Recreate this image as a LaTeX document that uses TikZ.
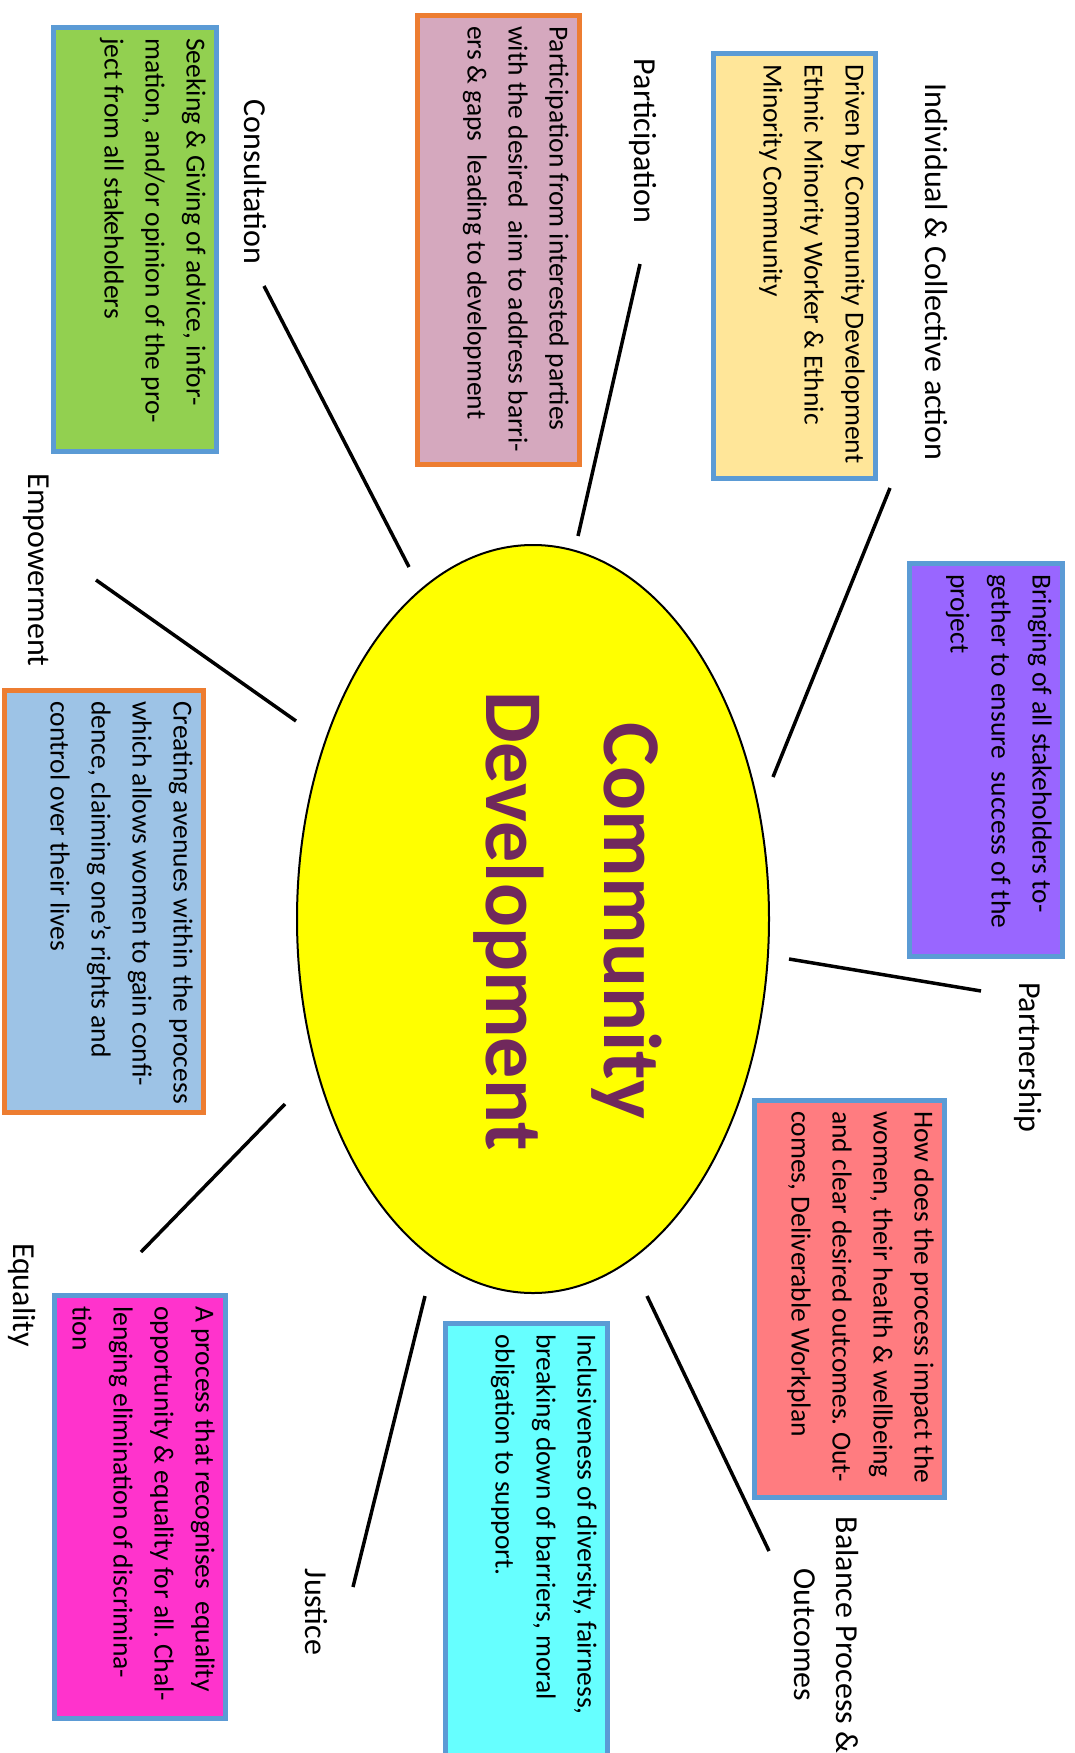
\documentclass[tikz,border=0pt]{standalone}
\usepackage{fontspec}
\setmainfont{Carlito}
\usetikzlibrary{shapes.geometric}
\frenchspacing

\definecolor{boxblue}{RGB}{91,155,213}
\definecolor{boxorange}{RGB}{237,125,49}
\definecolor{titlepurple}{RGB}{112,40,92}
\definecolor{fillsand}{RGB}{255,230,153}
\definecolor{fillmauve}{RGB}{213,168,190}
\definecolor{fillgreen}{RGB}{146,208,80}
\definecolor{fillviolet}{RGB}{153,102,255}
\definecolor{fillsalmon}{RGB}{255,124,128}
\definecolor{fillcyan}{RGB}{102,255,255}
\definecolor{fillmagenta}{RGB}{255,51,204}
\definecolor{fillsky}{RGB}{157,195,230}
\definecolor{centreyellow}{RGB}{255,255,0}

\tikzset{
  descbox/.style  = {draw=boxblue, line width=5pt, rotate=-90, inner sep=0pt},
  desctext/.style = {rotate=-90, anchor=north west, align=left, inner sep=13pt,
                     font=\fontsize{27.5}{41}\selectfont},
  term/.style     = {rotate=-90, align=center, inner sep=0pt,
                     font=\fontsize{32}{42}\selectfont},
  spoke/.style    = {line width=3.5pt},
}

\begin{document}
\begin{tikzpicture}[x=1pt, y=-1pt]
  \clip (0,0) rectangle (1075,1753);
  \fill[white] (0,0) rectangle (1075,1753);

  % centre
  \node[ellipse, draw, line width=2pt, fill=centreyellow, minimum width=472, minimum height=748] (cd) at (533,919) {};
  \node[rotate=-90, align=center, text=titlepurple, font=\fontsize{82}{118}\selectfont\bfseries] (cdtitle) at (568,921) {Community\\Development};

  % boxes
  \node[descbox, fill=fillsand, minimum width=425, minimum height=162] (bIndiv) at (794.5,266) {};
  \node[desctext] at (bIndiv.north west) {Driven by Community Development\\Ethnic Minority Worker \& Ethnic\\Minority Community};

  \node[descbox, draw=boxorange, fill=fillmauve, minimum width=449, minimum height=162] (bPartic) at (498.5,240) {};
  \node[desctext] at (bPartic.north west) {Participation from interested parties\\with the desired\ \ aim to address barri-\\ers \& gaps\ \ leading to development};

  \node[descbox, fill=fillgreen, minimum width=424, minimum height=163] (bConsult) at (135,239.5) {};
  \node[desctext] at (bConsult.north west) {Seeking \& Giving of advice, infor-\\mation, and/or opinion of the pro-\\ject from all stakeholders};

  \node[descbox, fill=fillviolet, minimum width=393, minimum height=153] (bPartner) at (986,760) {};
  \node[desctext] at (bPartner.north west) {Bringing of all stakeholders to-\\gether to ensure\ \ success of the\\project};

  \node[descbox, fill=fillsalmon, minimum width=397, minimum height=190] (bBalance) at (849.5,1299) {};
  \node[desctext] at (bBalance.north west) {How does the process impact the\\women, their health \& wellbeing\\and clear desired outcomes. Out-\\comes, Deliverable Workplan};

  \node[descbox, fill=fillcyan, minimum width=443, minimum height=162] (bJustice) at (526.5,1545) {};
  \node[desctext] at (bJustice.north west) {Inclusiveness of diversity, fairness,\\breaking down of barriers, moral\\obligation to support.};

  \node[descbox, fill=fillmagenta, minimum width=423, minimum height=171] (bEqual) at (140,1507) {};
  \node[desctext] at (bEqual.north west) {A process that recognises\ \ equality\\opportunity \& equality for all. Chal-\\lenging elimination of discrimina-\\tion};

  \node[descbox, draw=boxorange, fill=fillsky, minimum width=422, minimum height=199] (bEmpower) at (104,901.5) {};
  \node[desctext] at (bEmpower.north west) {Creating avenues within the process\\which allows women to gain confi-\\dence, claiming one’s rights and\\control over their lives};

  % terms
  \node[term] (tIndiv)   at (936,272)  {Individual \& Collective action};
  \node[term] (tPartic)  at (643,141)  {Participation};
  \node[term] (tConsult) at (255,182)  {Consultation};
  \node[term] (tEmpower) at (36,570)   {Empowerment};
  \node[term] (tEqual)   at (22,1295)  {Equality};
  \node[term] (tJustice) at (316,1612) {Justice};
  \node[term] (tBalance) at (826,1635) {Balance Process \&\\Outcomes};
  \node[term] (tPartner) at (1028,1057) {Partnership};

  % spokes
  \coordinate (sIndiv1)   at (890,488);  \coordinate (sIndiv2)   at (773,777);
  \coordinate (sPartic1)  at (640,264);  \coordinate (sPartic2)  at (578,536);
  \coordinate (sConsult1) at (264,286);  \coordinate (sConsult2) at (409,567);
  \coordinate (sEmpower1) at (96,580);   \coordinate (sEmpower2) at (296,721);
  \coordinate (sEqual1)   at (141,1252); \coordinate (sEqual2)   at (285,1104);
  \coordinate (sJustice1) at (353,1587); \coordinate (sJustice2) at (425,1296);
  \coordinate (sBalance1) at (769,1551); \coordinate (sBalance2) at (647,1296);
  \coordinate (sPartner1) at (981,991);  \coordinate (sPartner2) at (789,959);
  \foreach \s in {Indiv,Partic,Consult,Empower,Equal,Justice,Balance,Partner}
    \draw[spoke] (s\s1) -- (s\s2);
\end{tikzpicture}
\end{document}
